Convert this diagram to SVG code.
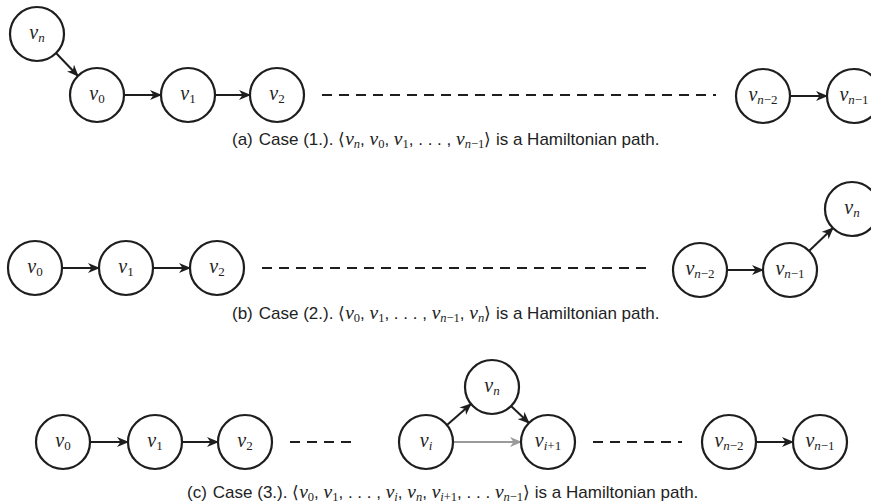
<svg xmlns="http://www.w3.org/2000/svg" width="871" height="504" viewBox="0 0 871 504">
<defs>
<style>
.n circle{fill:#fff;stroke:#1e1e1e;stroke-width:2.2}
.lbl{font-family:"Liberation Serif",serif;font-style:italic;font-size:20px;fill:#222;text-anchor:middle}
.sub{font-size:13px}
.up{font-style:normal}
.e{stroke:#1e1e1e;stroke-width:2;fill:none;marker-end:url(#ah)}
.g{stroke:#9a9a9a;stroke-width:2;fill:none;marker-end:url(#ahg)}
.d{stroke:#1e1e1e;stroke-width:2;fill:none;stroke-dasharray:10 7}
.cap{font-family:"Liberation Sans",Arial,sans-serif;font-size:17px;fill:#222}
.m{font-family:"Liberation Serif",serif;font-style:italic;font-size:19.5px}
.ms{font-family:"Liberation Serif",serif;font-size:12.5px}
.i{font-style:italic}
</style>
<marker id="ah" viewBox="0 0 12 10" refX="11" refY="5" markerWidth="12" markerHeight="10" markerUnits="userSpaceOnUse" orient="auto">
<path d="M0,0 L12,5 L0,10 L3.5,5 z" fill="#1e1e1e"/>
</marker>
<marker id="ahg" viewBox="0 0 12 10" refX="11" refY="5" markerWidth="12" markerHeight="10" markerUnits="userSpaceOnUse" orient="auto">
<path d="M0,0 L12,5 L0,10 L3.5,5 z" fill="#9a9a9a"/>
</marker>
</defs>
<rect width="871" height="504" fill="#fff"/>

<g id="connectors">
<line class="e" x1="56" y1="53" x2="78" y2="76"/>
<line class="e" x1="124" y1="95" x2="161" y2="95"/>
<line class="e" x1="215" y1="95" x2="250" y2="95"/>
<line class="d" x1="322" y1="95" x2="716" y2="95"/>
<line class="e" x1="790" y1="96" x2="827" y2="96"/>
<line class="e" x1="62" y1="268" x2="99" y2="268"/>
<line class="e" x1="153" y1="268" x2="190" y2="268"/>
<line class="d" x1="262" y1="268" x2="652" y2="268"/>
<line class="e" x1="727" y1="270" x2="763" y2="270"/>
<line class="e" x1="809" y1="251" x2="833" y2="228"/>
<line class="e" x1="90" y1="442" x2="128" y2="442"/>
<line class="e" x1="182" y1="442" x2="218" y2="442"/>
<line class="d" x1="290" y1="442" x2="355" y2="442"/>
<line class="e" x1="447" y1="425" x2="471" y2="404"/>
<line class="e" x1="511" y1="406" x2="529" y2="423"/>
<line class="g" x1="453" y1="442" x2="521" y2="442"/>
<line class="d" x1="593" y1="442" x2="682" y2="442"/>
<line class="e" x1="756" y1="442" x2="793" y2="442"/>
</g>

<g id="a_vn" class="n"><circle cx="37" cy="34" r="27"/><text class="lbl" x="37" y="39">v<tspan class="sub" dy="3">n</tspan></text></g>
<g id="a_v0" class="n"><circle cx="97" cy="95" r="27"/><text class="lbl" x="97" y="100">v<tspan class="sub up" dy="3">0</tspan></text></g>
<g id="a_v1" class="n"><circle cx="188" cy="95" r="27"/><text class="lbl" x="188" y="100">v<tspan class="sub up" dy="3">1</tspan></text></g>
<g id="a_v2" class="n"><circle cx="277" cy="95" r="27"/><text class="lbl" x="277" y="100">v<tspan class="sub up" dy="3">2</tspan></text></g>
<g id="a_vn2" class="n"><circle cx="763" cy="96" r="27"/><text class="lbl" x="763" y="101">v<tspan class="sub" dy="3">n</tspan><tspan class="sub up">−2</tspan></text></g>
<g id="a_vn1" class="n"><circle cx="854" cy="96" r="27"/><text class="lbl" x="854" y="101">v<tspan class="sub" dy="3">n</tspan><tspan class="sub up">−1</tspan></text></g>

<g id="b_v0" class="n"><circle cx="35" cy="268" r="27"/><text class="lbl" x="35" y="273">v<tspan class="sub up" dy="3">0</tspan></text></g>
<g id="b_v1" class="n"><circle cx="126" cy="268" r="27"/><text class="lbl" x="126" y="273">v<tspan class="sub up" dy="3">1</tspan></text></g>
<g id="b_v2" class="n"><circle cx="217" cy="268" r="27"/><text class="lbl" x="217" y="273">v<tspan class="sub up" dy="3">2</tspan></text></g>
<g id="b_vn2" class="n"><circle cx="700" cy="270" r="27"/><text class="lbl" x="700" y="275">v<tspan class="sub" dy="3">n</tspan><tspan class="sub up">−2</tspan></text></g>
<g id="b_vn1" class="n"><circle cx="790" cy="270" r="27"/><text class="lbl" x="790" y="275">v<tspan class="sub" dy="3">n</tspan><tspan class="sub up">−1</tspan></text></g>
<g id="b_vn" class="n"><circle cx="852" cy="209" r="27"/><text class="lbl" x="852" y="214">v<tspan class="sub" dy="3">n</tspan></text></g>

<g id="c_v0" class="n"><circle cx="63" cy="442" r="27"/><text class="lbl" x="63" y="447">v<tspan class="sub up" dy="3">0</tspan></text></g>
<g id="c_v1" class="n"><circle cx="155" cy="442" r="27"/><text class="lbl" x="155" y="447">v<tspan class="sub up" dy="3">1</tspan></text></g>
<g id="c_v2" class="n"><circle cx="245" cy="442" r="27"/><text class="lbl" x="245" y="447">v<tspan class="sub up" dy="3">2</tspan></text></g>
<g id="c_vi" class="n"><circle cx="426" cy="442" r="27"/><text class="lbl" x="426" y="447">v<tspan class="sub" dy="3">i</tspan></text></g>
<g id="c_vn" class="n"><circle cx="492" cy="387" r="27"/><text class="lbl" x="492" y="392">v<tspan class="sub" dy="3">n</tspan></text></g>
<g id="c_vi1" class="n"><circle cx="548" cy="442" r="27"/><text class="lbl" x="548" y="447">v<tspan class="sub" dy="3">i</tspan><tspan class="sub up">+1</tspan></text></g>
<g id="c_vn2" class="n"><circle cx="729" cy="442" r="27"/><text class="lbl" x="729" y="447">v<tspan class="sub" dy="3">n</tspan><tspan class="sub up">−2</tspan></text></g>
<g id="c_vn1" class="n"><circle cx="820" cy="442" r="27"/><text class="lbl" x="820" y="447">v<tspan class="sub" dy="3">n</tspan><tspan class="sub up">−1</tspan></text></g>

<text class="cap" x="232" y="145">(a)<tspan dx="6">Case (1.). ⟨</tspan><tspan class="m">v</tspan><tspan class="ms i" dy="3">n</tspan><tspan dy="-3">, </tspan><tspan class="m">v</tspan><tspan class="ms" dy="3">0</tspan><tspan dy="-3">, </tspan><tspan class="m">v</tspan><tspan class="ms" dy="3">1</tspan><tspan dy="-3">, . . . , </tspan><tspan class="m">v</tspan><tspan class="ms i" dy="3">n</tspan><tspan class="ms">−1</tspan><tspan dy="-3">⟩ is a Hamiltonian path.</tspan></text>

<text class="cap" x="232" y="319">(b)<tspan dx="6">Case (2.). ⟨</tspan><tspan class="m">v</tspan><tspan class="ms" dy="3">0</tspan><tspan dy="-3">, </tspan><tspan class="m">v</tspan><tspan class="ms" dy="3">1</tspan><tspan dy="-3">, . . . , </tspan><tspan class="m">v</tspan><tspan class="ms i" dy="3">n</tspan><tspan class="ms">−1</tspan><tspan dy="-3">, </tspan><tspan class="m">v</tspan><tspan class="ms i" dy="3">n</tspan><tspan dy="-3">⟩ is a Hamiltonian path.</tspan></text>

<text class="cap" x="187" y="498">(c)<tspan dx="6">Case (3.). ⟨</tspan><tspan class="m">v</tspan><tspan class="ms" dy="3">0</tspan><tspan dy="-3">, </tspan><tspan class="m">v</tspan><tspan class="ms" dy="3">1</tspan><tspan dy="-3">, . . . , </tspan><tspan class="m">v</tspan><tspan class="ms i" dy="3">i</tspan><tspan dy="-3">, </tspan><tspan class="m">v</tspan><tspan class="ms i" dy="3">n</tspan><tspan dy="-3">, </tspan><tspan class="m">v</tspan><tspan class="ms i" dy="3">i</tspan><tspan class="ms">+1</tspan><tspan dy="-3">, . . . </tspan><tspan class="m">v</tspan><tspan class="ms i" dy="3">n</tspan><tspan class="ms">−1</tspan><tspan dy="-3">⟩ is a Hamiltonian path.</tspan></text>
</svg>
